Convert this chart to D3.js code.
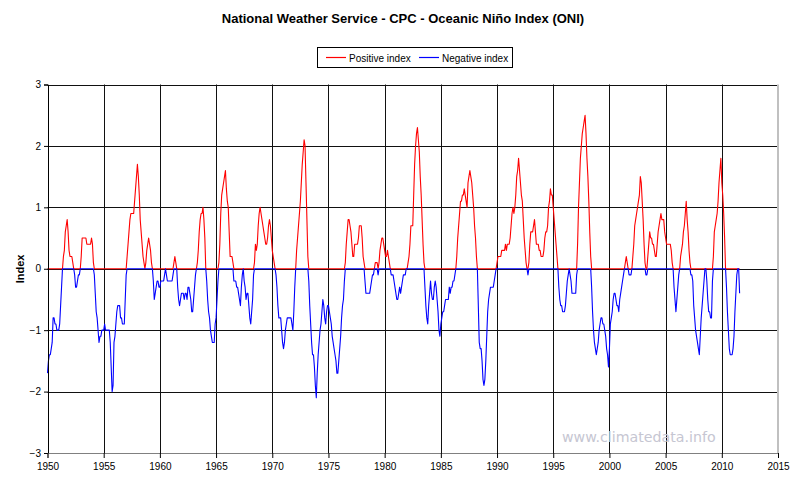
<!DOCTYPE html>
<html><head><meta charset="utf-8">
<script src="https://cdn.jsdelivr.net/npm/d3@7"></script>
<style>body{margin:0;background:#fff}svg{display:block}</style>
</head><body><svg id="c" width="800" height="488"></svg>
<script>
const startYear = 1950;
const oni1950s = [
-1.7,-1.5,-1.4,-1.4,-1.3,-1.2,-0.8,-0.8,-0.9,-0.9,-1.0,-1.0,
-1.0,-0.9,-0.6,-0.3,0.0,0.2,0.3,0.6,0.7,0.8,0.6,0.3,
0.2,0.2,0.2,0.1,0.0,-0.1,-0.3,-0.3,-0.2,-0.1,-0.1,0.0,
0.2,0.5,0.5,0.5,0.5,0.5,0.4,0.4,0.4,0.4,0.4,0.5,
0.4,0.1,-0.1,-0.4,-0.7,-0.8,-1.0,-1.2,-1.1,-1.1,-1.0,-1.0,
-1.0,-0.9,-1.0,-1.0,-1.0,-1.0,-1.0,-1.2,-1.6,-2.0,-1.9,-1.2,
-1.1,-0.9,-0.7,-0.6,-0.6,-0.6,-0.8,-0.8,-0.9,-0.9,-0.9,-0.5,
-0.1,0.2,0.4,0.6,0.8,0.9,0.9,0.9,0.9,1.1,1.3,1.5,
1.7,1.5,1.2,0.8,0.6,0.4,0.2,0.1,0.0,0.1,0.3,0.4,
0.5,0.4,0.3,0.1,0.0,-0.2,-0.5,-0.4,-0.3,-0.2,-0.2,-0.3];
const oni1960s = [
-0.3,-0.2,-0.2,-0.2,-0.2,-0.1,0.0,-0.1,-0.2,-0.2,-0.2,-0.2,
-0.2,-0.2,-0.1,0.1,0.2,0.1,0.0,-0.3,-0.5,-0.6,-0.5,-0.4,
-0.4,-0.4,-0.5,-0.4,-0.4,-0.5,-0.3,-0.3,-0.4,-0.5,-0.7,-0.7,
-0.5,-0.3,-0.1,0.0,0.1,0.3,0.6,0.8,0.9,0.9,1.0,0.8,
0.5,0.0,-0.2,-0.5,-0.7,-0.8,-1.0,-1.1,-1.2,-1.2,-1.2,-0.9,
-0.8,-0.5,-0.2,0.1,0.4,0.9,1.2,1.3,1.4,1.5,1.6,1.3,
1.1,1.0,0.6,0.2,0.2,0.2,0.1,-0.2,-0.2,-0.2,-0.3,-0.3,
-0.4,-0.5,-0.6,-0.3,-0.1,0.0,-0.2,-0.3,-0.5,-0.4,-0.4,-0.6,
-0.8,-0.9,-0.7,-0.5,-0.1,0.1,0.4,0.3,0.4,0.7,0.9,1.0,
0.9,0.8,0.7,0.6,0.5,0.4,0.4,0.5,0.7,0.8,0.7,0.5];
const oni1970s = [
0.3,0.2,0.1,0.0,-0.1,-0.3,-0.6,-0.8,-0.8,-0.8,-1.0,-1.2,
-1.3,-1.2,-1.0,-0.9,-0.8,-0.8,-0.8,-0.8,-0.8,-0.9,-1.0,-0.7,
-0.3,0.0,0.3,0.5,0.7,0.9,1.1,1.4,1.7,1.9,2.1,2.0,
1.4,0.8,0.2,-0.2,-0.6,-0.9,-1.2,-1.4,-1.4,-1.6,-1.9,-2.1,
-1.7,-1.4,-1.2,-1.0,-0.9,-0.7,-0.5,-0.6,-0.8,-0.9,-0.7,-0.6,
-0.6,-0.7,-0.8,-0.9,-1.1,-1.2,-1.3,-1.4,-1.5,-1.7,-1.7,-1.5,
-1.3,-1.1,-0.8,-0.6,-0.5,-0.2,0.1,0.4,0.6,0.8,0.8,0.7,
0.6,0.4,0.2,0.2,0.4,0.4,0.4,0.4,0.5,0.7,0.7,0.7,
0.5,0.2,0.1,-0.2,-0.4,-0.4,-0.4,-0.4,-0.4,-0.3,-0.2,-0.1,
-0.1,0.0,0.1,0.1,0.1,-0.1,0.1,0.3,0.4,0.5,0.5,0.4];
const oni1980s = [
0.3,0.2,0.2,0.3,0.2,0.1,0.0,-0.1,-0.1,-0.1,-0.2,-0.3,
-0.4,-0.5,-0.5,-0.4,-0.3,-0.4,-0.3,-0.2,-0.1,-0.1,-0.1,0.0,
0.0,0.1,0.2,0.4,0.7,0.7,0.7,1.2,1.7,2.0,2.2,2.3,
2.1,1.9,1.5,1.2,0.8,0.4,0.1,-0.3,-0.6,-0.8,-0.9,-0.6,
-0.4,-0.2,-0.4,-0.5,-0.5,-0.3,-0.2,-0.3,-0.5,-0.7,-1.0,-1.1,
-0.9,-0.8,-0.7,-0.7,-0.6,-0.5,-0.5,-0.5,-0.5,-0.3,-0.4,-0.3,
-0.3,-0.2,-0.2,-0.1,0.0,0.2,0.5,0.7,0.9,1.1,1.1,1.2,
1.2,1.3,1.2,1.1,1.0,1.4,1.5,1.6,1.5,1.4,1.2,1.0,
0.7,0.5,0.2,0.0,-0.6,-1.2,-1.3,-1.3,-1.5,-1.8,-1.9,-1.8,
-1.5,-1.1,-0.7,-0.5,-0.4,-0.3,-0.3,-0.3,-0.3,-0.2,-0.1,0.0];
const oni1990s = [
0.1,0.2,0.2,0.2,0.2,0.3,0.3,0.3,0.3,0.4,0.3,0.4,
0.4,0.4,0.5,0.7,0.9,1.0,0.9,1.0,1.2,1.5,1.6,1.8,
1.6,1.4,1.2,1.1,0.8,0.5,0.3,0.1,0.0,-0.1,0.1,0.4,
0.6,0.6,0.6,0.7,0.8,0.6,0.4,0.4,0.4,0.3,0.3,0.2,
0.2,0.2,0.3,0.5,0.6,0.6,0.7,1.0,1.1,1.3,1.2,1.2,
1.0,0.8,0.6,0.4,0.2,0.0,-0.3,-0.5,-0.6,-0.6,-0.7,-0.7,
-0.7,-0.6,-0.4,-0.2,-0.1,0.0,-0.1,-0.2,-0.4,-0.4,-0.4,-0.4,
-0.4,-0.1,0.4,1.0,1.4,1.8,2.0,2.2,2.3,2.4,2.5,2.2,
1.8,1.5,1.1,0.6,0.2,-0.3,-0.7,-1.0,-1.2,-1.3,-1.4,-1.3,
-1.2,-1.0,-0.9,-0.8,-0.8,-0.9,-0.9,-1.0,-1.1,-1.3,-1.4,-1.6];
const oni2000s = [
-1.3,-0.9,-0.8,-0.7,-0.5,-0.4,-0.4,-0.5,-0.6,-0.6,-0.7,-0.5,
-0.4,-0.3,-0.2,-0.1,0.0,0.1,0.2,0.1,0.0,-0.1,-0.1,-0.1,
0.0,0.2,0.4,0.7,0.8,0.9,1.0,1.1,1.2,1.5,1.4,1.1,
0.8,0.4,0.1,-0.1,-0.1,0.2,0.4,0.6,0.5,0.5,0.4,0.4,
0.3,0.2,0.2,0.4,0.6,0.7,0.8,0.9,0.8,0.8,0.8,0.6,
0.5,0.4,0.4,0.4,0.4,0.4,0.3,0.1,0.0,-0.3,-0.5,-0.7,
-0.5,-0.3,-0.1,0.0,0.2,0.3,0.4,0.6,0.7,0.9,1.1,0.8,
0.6,0.3,0.1,-0.1,-0.1,-0.2,-0.6,-0.8,-1.0,-1.1,-1.2,-1.3,
-1.4,-1.1,-0.8,-0.6,-0.4,-0.2,0.0,0.0,-0.2,-0.5,-0.7,-0.7,
-0.8,-0.8,-0.2,0.2,0.6,0.7,0.8,0.9,1.1,1.4,1.6,1.8];
const oni2010s = [
1.4,1.2,0.9,0.5,0.0,-0.3,-0.7,-1.0,-1.3,-1.4,-1.4,-1.4,
-1.3,-1.1,-0.7,-0.4,-0.1,0.0,0.0,-0.4];

const xTicks = [1950,1955,1960,1965,1970,1975,1980,1985,1990,1995,2000,2005,2010,2015];
const yTicks = [-3,-2,-1,0,1,2,3];
const seriesNames = ["Positive index","Negative index"];
const seriesColors = ["#ff0000","#0000ff"];

const oni = [].concat(oni1950s, oni1960s, oni1970s, oni1980s, oni1990s, oni2000s, oni2010s);
const times = oni.map((v,i) => startYear + i/12);
const positive = oni.map(v => Math.max(0, v));
const negative = oni.map(v => Math.min(0, v));

const svg = d3.select("#c");
const L = 47.5, R = 778, T = 84.5, B = 453;
const x = d3.scaleLinear().domain([1950, 2015]).range([L, R]);
const y = d3.scaleLinear().domain([-3, 3]).range([B, T]);
const px = v => Math.round(v) + 0.5;

svg.append("rect").attr("width",800).attr("height",488).attr("fill","#fff");

// gridlines
const g = svg.append("g");
g.selectAll("line.h").data(yTicks).join("line")
  .attr("x1", L).attr("x2", R)
  .attr("y1", d => px(y(d))).attr("y2", d => px(y(d)))
  .attr("stroke", "#111").attr("stroke-width", 1);
g.selectAll("line.v").data(xTicks.slice(1, -1)).join("line")
  .attr("x1", d => px(x(d))).attr("x2", d => px(x(d)))
  .attr("y1", T).attr("y2", B)
  .attr("stroke", "#111").attr("stroke-width", 1);
// right border
svg.append("line").attr("x1", R).attr("x2", R).attr("y1", T).attr("y2", B)
  .attr("stroke", "#c0c0c0").attr("stroke-width", 2);

// series
const line = d3.line().x((d,i) => x(times[i])).y(d => y(d));
[positive, negative].forEach((s, k) => {
  svg.append("path").datum(s).attr("d", line)
    .attr("fill","none").attr("stroke", seriesColors[k])
    .attr("stroke-width", 1.1).attr("stroke-linejoin","round");
});

// axes
const ya = svg.append("g").attr("transform", `translate(${px(L)-0.5},0)`)
  .call(d3.axisLeft(y).tickValues(yTicks).tickSize(4).tickPadding(3).tickFormat(d3.format("d")));
ya.select(".domain").attr("stroke","#000");
ya.selectAll(".tick line").attr("stroke","#000");
ya.selectAll("text").attr("font-family","Liberation Sans, Arial, sans-serif").attr("font-size",10).attr("fill","#000");

const xa = svg.append("g").attr("transform", `translate(0,${px(B)-0.5})`)
  .call(d3.axisBottom(x).tickValues(xTicks).tickSize(5).tickPadding(5).tickFormat(d3.format("d")));
xa.select(".domain").attr("stroke","#808080");
xa.selectAll(".tick line").attr("stroke","#000");
xa.selectAll("text").attr("font-family","Liberation Sans, Arial, sans-serif").attr("font-size",10).attr("fill","#000");

// title
svg.append("text").attr("x", 403).attr("y", 23).attr("text-anchor","middle")
  .attr("font-family","Liberation Sans, Arial, sans-serif").attr("font-size",13).attr("font-weight","bold")
  .text("National Weather Service - CPC - Oceanic Niño Index (ONI)");

// y label
svg.append("text").attr("transform","translate(24,269) rotate(-90)").attr("text-anchor","middle")
  .attr("font-family","Liberation Sans, Arial, sans-serif").attr("font-size",11).attr("font-weight","bold")
  .text("Index");

// legend
const lg = svg.append("g");
lg.append("rect").attr("x",317.5).attr("y",47.5).attr("width",195).attr("height",20)
  .attr("fill","#fff").attr("stroke","#000").attr("stroke-width",1);
const legX = [326, 419];
seriesNames.forEach((n, k) => {
  lg.append("line").attr("x1", legX[k]).attr("x2", legX[k]+20).attr("y1",57.5).attr("y2",57.5)
    .attr("stroke", seriesColors[k]).attr("stroke-width",1.2);
  lg.append("text").attr("x", legX[k]+23).attr("y", 61.5)
    .attr("font-family","Liberation Sans, Arial, sans-serif").attr("font-size",10)
    .text(n);
});

// watermark
svg.append("text").attr("x", 562).attr("y", 442)
  .attr("font-family","DejaVu Sans, Verdana, sans-serif").attr("font-size",14.2)
  .attr("fill","#c6c6d2").text("www.climatedata.info");
</script>
</body></html>
